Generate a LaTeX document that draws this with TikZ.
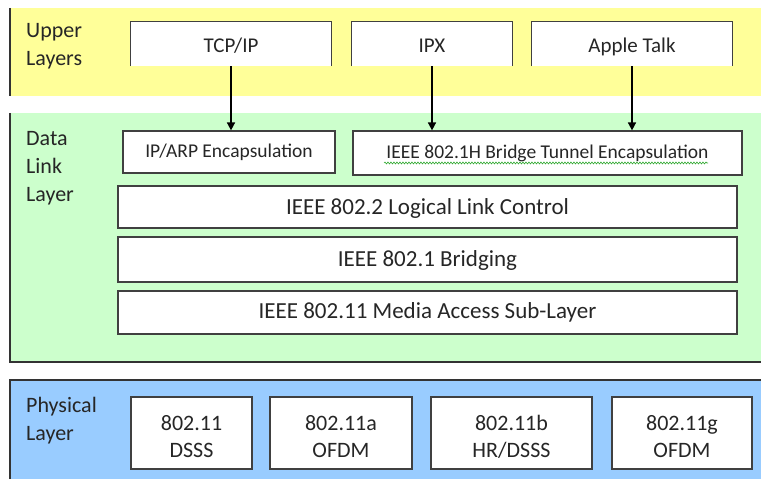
\documentclass[tikz,border=0pt]{standalone}
\usepackage{fontspec}
\setmainfont{Carlito}
\usetikzlibrary{arrows.meta,decorations.pathmorphing}
\definecolor{upperbg}{HTML}{FFFF99}
\definecolor{linkbg}{HTML}{CCFFCC}
\definecolor{physbg}{HTML}{99CCFF}
\definecolor{edge}{HTML}{404040}
\definecolor{squig}{HTML}{33AA33}
\newcommand{\topstrut}{\rule[-6pt]{0pt}{30pt}}
\newcommand{\phtop}{\rule{0pt}{27pt}}
\newcommand{\phbot}{\rule[-6pt]{0pt}{6pt}}
\tikzset{
  box/.style={fill=white, draw=edge, line width=1.2pt, inner sep=0pt, align=center, text=black!85},
  openbox/.style={fill=white, inner sep=0pt, align=center, text=black!85},
  sidelabel/.style={anchor=north west, inner sep=0pt, align=left, font=\fontsize{22}{28}\selectfont, text=black!85},
  arr/.style={line width=1.6pt, -{Triangle[width=8pt,length=8pt]}},
  band/.style={line width=1.2pt, draw=black!80},
  topfont/.style={font=\fontsize{21}{23}\selectfont},
  encfont/.style={font=\fontsize{19.5}{21}\selectfont},
  subfont/.style={font=\fontsize{23}{25}\selectfont},
  phyfont/.style={font=\fontsize{22}{27}\selectfont}
}
\begin{document}
\begin{tikzpicture}[x=1pt,y=-1pt]
\useasboundingbox (0,0) rectangle (761,481);
% bands
\fill[upperbg] (10,8) rectangle (761,96);
\draw[band] (10,8) -- (10,96);
\fill[linkbg] (10,113) rectangle (761,362);
\draw[band] (10,113) -- (10,362) -- (761,362);
\fill[physbg] (10,380) rectangle (761,479);
\draw[band] (10,479) -- (10,380) -- (761,380);
% side labels
\node[sidelabel] (ul) at (26,23) {Upper\\Layers};
\node[sidelabel] (dl) at (26,131) {Data\\Link\\Layer};
\node[sidelabel] (pl) at (26,397) {Physical\\Layer};
% upper layer boxes
\node[openbox, topfont, minimum width=200pt, minimum height=44pt] (tcp) at (231,44) {\topstrut TCP/IP};
\node[openbox, topfont, minimum width=160pt, minimum height=44pt] (ipx) at (432,44) {\topstrut IPX};
\node[openbox, topfont, minimum width=200pt, minimum height=44pt] (apple) at (632,44) {\topstrut Apple Talk};
\foreach \n in {tcp,ipx,apple}{
  \draw[draw=edge, line width=1.2pt] (\n.south west) |- (\n.north east) -- (\n.south east);
}
% data link boxes
\node[box, encfont, minimum width=212pt, minimum height=42pt] (arp) at (229,152) {IP/ARP Encapsulation};
\node[box, encfont, minimum width=389pt, minimum height=44pt] (tunnel) at (547.5,153) {IEEE 802.1H Bridge Tunnel Encapsulation};
\node[box, subfont, minimum width=619pt, minimum height=42pt] (llc) at (427.5,207) {\rule{0pt}{18pt}IEEE 802.2 Logical Link Control};
\node[box, subfont, minimum width=619pt, minimum height=45pt] (bridge) at (427.5,259.5) {\rule{0pt}{18pt}IEEE 802.1 Bridging};
\node[box, subfont, minimum width=619pt, minimum height=43pt] (mac) at (427.5,312.5) {IEEE 802.11 Media Access Sub-Layer};
\draw[squig, line width=0.6pt, decorate, decoration={snake, amplitude=1pt, segment length=3pt}] (384,163) -- (708,163);
% physical boxes
\node[box, phyfont, minimum width=121pt, minimum height=72pt] (dsss) at (191.5,433) {\phtop 802.11\\DSSS\phbot};
\node[box, phyfont, minimum width=142pt, minimum height=72pt] (ofdma) at (341,433) {\phtop 802.11a\\OFDM\phbot};
\node[box, phyfont, minimum width=161pt, minimum height=72pt] (hrdsss) at (511.5,433) {\phtop 802.11b\\HR/DSSS\phbot};
\node[box, phyfont, minimum width=140pt, minimum height=72pt] (ofdmg) at (682,433) {\phtop 802.11g\\OFDM\phbot};
% arrows
\draw[arr] (tcp.south) -- (tcp.south |- arp.north);
\draw[arr] (ipx.south) -- (ipx.south |- tunnel.north);
\draw[arr] (apple.south) -- (apple.south |- tunnel.north);
\end{tikzpicture}
\end{document}
